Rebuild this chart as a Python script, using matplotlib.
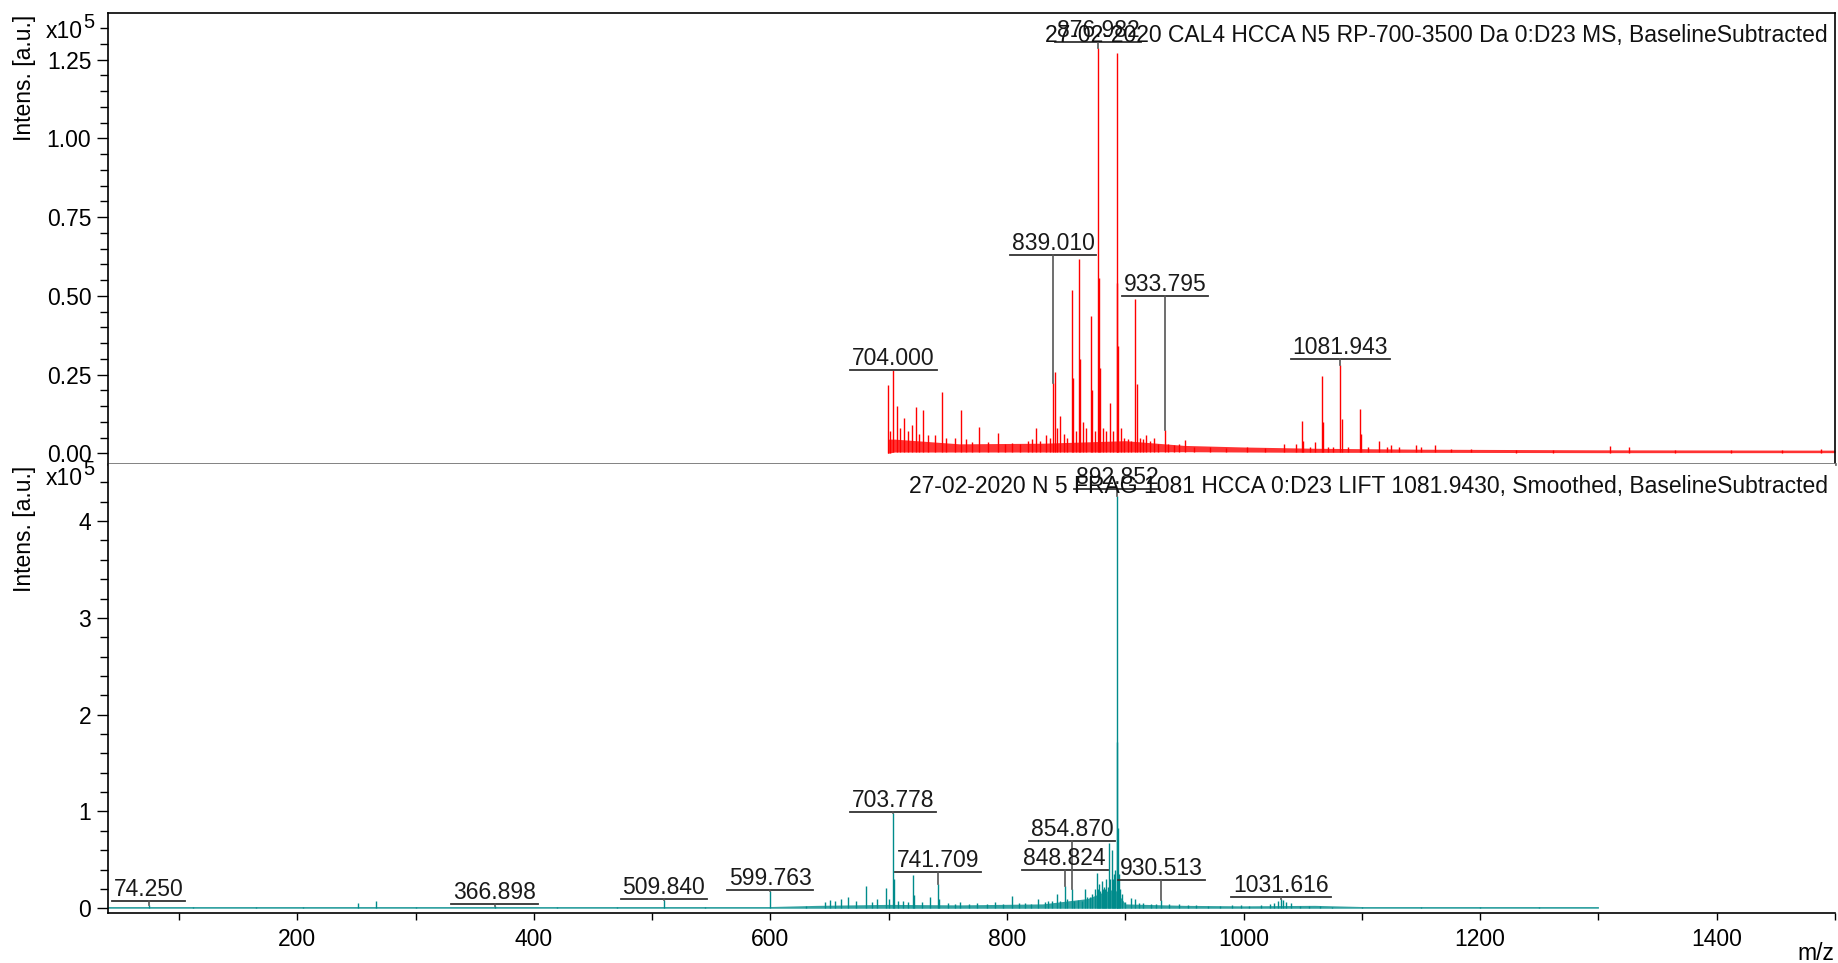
import numpy as np
import matplotlib.pyplot as plt
from matplotlib.ticker import MultipleLocator, FormatStrFormatter

plt.rcParams['font.family'] = ['Liberation Sans', 'DejaVu Sans']
plt.rcParams['font.size'] = 16.5

# MS spectrum (calibrant), intensities in units of 1e5
ms_mz = [699.6, 701.3, 704.000, 706.7, 709.5, 712.9, 716.0, 719.4, 723.1, 725.8,
         728.7, 733.0, 739.1, 744.8, 748.5, 756.0, 760.9, 765.0, 770.5, 776.6,
         784.0, 792.7, 798.0, 804.0, 811.0, 818.0, 821.5, 824.6, 828.0, 833.0,
         836.0, 839.010, 840.7, 842.5, 844.9, 848.0, 851.0, 854.8, 855.9, 858.0,
         860.8, 862.0, 864.5, 867.0, 870.9, 872.0, 874.5, 876.982, 877.6, 878.5,
         881.0, 883.5, 886.7, 889.5, 892.7, 893.3, 894.0, 896.0, 899.0, 902.0,
         905.0, 908.4, 909.8, 912.5, 915.0, 917.6, 921.0, 924.7, 928.0, 933.795,
         936.0, 941.0, 945.0, 950.7, 958.0, 972.0, 985.0, 1003.0, 1018.0, 1034.0,
         1044.0, 1049.4, 1050.5, 1056.0, 1060.0, 1066.3, 1067.3, 1071.0, 1076.0, 1081.943,
         1083.0, 1088.0, 1098.2, 1099.2, 1105.0, 1114.2, 1121.0, 1125.0, 1131.0, 1146.0,
         1150.0, 1162.0, 1175.0, 1192.0, 1230.0, 1262.0, 1310.0, 1326.0, 1365.0, 1412.0,
         1455.0, 1488.0]
ms_int = [0.218, 0.07, 0.265, 0.149, 0.08, 0.111, 0.07, 0.09, 0.146, 0.06,
          0.136, 0.058, 0.058, 0.194, 0.05, 0.048, 0.136, 0.045, 0.035, 0.085,
          0.035, 0.066, 0.03, 0.032, 0.03, 0.04, 0.045, 0.08, 0.04, 0.058,
          0.05, 0.223, 0.257, 0.08, 0.119, 0.06, 0.05, 0.520, 0.24, 0.07,
          0.618, 0.30, 0.10, 0.08, 0.435, 0.20, 0.07, 1.288, 0.555, 0.27,
          0.08, 0.07, 0.159, 0.07, 1.272, 0.542, 0.34, 0.08, 0.05, 0.045,
          0.04, 0.491, 0.22, 0.05, 0.045, 0.058, 0.04, 0.05, 0.03, 0.074,
          0.03, 0.025, 0.03, 0.042, 0.02, 0.02, 0.018, 0.02, 0.018, 0.03,
          0.03, 0.103, 0.04, 0.02, 0.035, 0.246, 0.10, 0.02, 0.02, 0.281,
          0.11, 0.02, 0.140, 0.06, 0.02, 0.04, 0.02, 0.025, 0.02, 0.026,
          0.02, 0.026, 0.015, 0.015, 0.012, 0.012, 0.023, 0.02, 0.012, 0.012,
          0.012, 0.013]
# noise floor of the MS trace
ms_band_mz = [699.0, 705.0, 760.0, 830.0, 900.0, 950.0, 1000.0, 1060.0, 1150.0, 1300.0, 1500.0]
ms_band_lo = [0.000, 0.004, 0.004, 0.004, 0.004, 0.005, 0.004, 0.003, 0.003, 0.002, 0.002]
ms_band_hi = [0.045, 0.045, 0.030, 0.032, 0.040, 0.025, 0.020, 0.016, 0.013, 0.011, 0.010]
ms_labels = [704.000, 839.010, 876.982, 933.795, 1081.943]
ms_label_y = [0.266, 0.63, 1.306, 0.499, 0.30]

# LIFT fragment spectrum, intensities in units of 1e5
lift_mz = [74.250, 112.0, 165.0, 205.0, 251.5, 266.5, 300.0, 366.898, 420.0, 470.0,
           509.840, 545.0, 599.763, 630.0, 646.0, 650.0, 655.0, 660.0, 666.0, 672.0,
           681.2, 686.0, 690.0, 697.3, 700.0, 703.778, 704.6, 708.0, 712.0, 716.0,
           720.6, 721.6, 728.0, 735.0, 741.709, 742.6, 750.0, 756.0, 760.0, 768.0,
           775.0, 783.0, 790.0, 797.0, 804.0, 810.0, 815.0, 820.0, 826.6, 832.0,
           835.0, 838.0, 842.7, 845.0, 848.824, 851.0, 854.870, 857.0, 860.0, 863.0,
           866.0, 868.0, 870.0, 872.0, 874.0, 876.0, 877.0, 878.0, 879.0, 880.0,
           881.0, 882.0, 883.0, 884.0, 885.0, 886.5, 887.5, 889.0, 890.0, 890.8,
           891.7, 892.852, 893.3, 893.8, 894.5, 895.5, 897.0, 900.0, 905.0, 908.0,
           912.0, 915.0, 922.0, 926.0, 930.513, 937.0, 945.0, 953.0, 960.0, 970.0,
           980.0, 990.0, 998.0, 1005.0, 1015.0, 1022.0, 1026.0, 1029.0, 1031.616, 1033.5,
           1036.0, 1040.0, 1048.0, 1055.0, 1065.0, 1075.0, 1100.0, 1150.0, 1200.0, 1250.0]
lift_int = [0.03, 0.012, 0.012, 0.01, 0.05, 0.076, 0.012, 0.02, 0.012, 0.015,
            0.083, 0.015, 0.176, 0.02, 0.06, 0.09, 0.07, 0.10, 0.12, 0.08,
            0.228, 0.06, 0.10, 0.214, 0.10, 0.98, 0.30, 0.08, 0.07, 0.06,
            0.34, 0.14, 0.06, 0.12, 0.255, 0.10, 0.05, 0.04, 0.06, 0.04,
            0.05, 0.04, 0.06, 0.04, 0.127, 0.05, 0.05, 0.04, 0.093, 0.06,
            0.08, 0.07, 0.152, 0.08, 0.228, 0.10, 0.20, 0.08, 0.09, 0.07,
            0.20, 0.12, 0.12, 0.15, 0.20, 0.366, 0.20, 0.25, 0.18, 0.28,
            0.20, 0.22, 0.20, 0.30, 0.22, 0.67, 0.30, 0.60, 0.30, 0.35,
            0.40, 4.26, 1.72, 0.83, 0.35, 0.20, 0.15, 0.06, 0.11, 0.10,
            0.05, 0.05, 0.04, 0.04, 0.09, 0.04, 0.04, 0.03, 0.035, 0.02,
            0.02, 0.03, 0.03, 0.025, 0.03, 0.04, 0.05, 0.07, 0.10, 0.09,
            0.06, 0.05, 0.025, 0.02, 0.02, 0.015, 0.01, 0.01, 0.01, 0.01]
lift_band_mz = [40.0, 600.0, 640.0, 700.0, 760.0, 830.0, 868.0, 880.0, 891.0, 900.0, 950.0, 1000.0, 1060.0, 1100.0, 1300.0]
lift_band_lo = [0.000, 0.000, 0.000, 0.000, 0.000, 0.000, 0.000, 0.000, 0.000, 0.000, 0.000, 0.000, 0.000, 0.000, 0.000]
lift_band_hi = [0.018, 0.018, 0.030, 0.040, 0.035, 0.045, 0.100, 0.160, 0.200, 0.045, 0.030, 0.025, 0.030, 0.018, 0.018]
lift_labels = [74.250, 366.898, 509.840, 599.763, 703.778, 741.709, 848.824, 854.870, 892.852, 930.513, 1031.616]
lift_label_y = [0.070, 0.045, 0.095, 0.188, 0.99, 0.37, 0.393, 0.694, 4.33, 0.297, 0.117]

ms_title = '27-02-2020 CAL4 HCCA N5 RP-700-3500 Da 0:D23 MS, BaselineSubtracted'
lift_title = '27-02-2020 N 5 FRAG 1081 HCCA 0:D23 LIFT 1081.9430, Smoothed, BaselineSubtracted'

W, H = 1838, 963
fig = plt.figure(figsize=(W / 100, H / 100), dpi=100)
x0, x1 = 108 / W, 1835 / W
ax1 = fig.add_axes([x0, 1 - 464 / H, x1 - x0, (464 - 13) / H])
ax2 = fig.add_axes([x0, 1 - 913 / H, x1 - x0, (913 - 464) / H])


def draw_spectrum(ax, mz, inten, bmz, blo, bhi, color):
    ax.fill_between(bmz, blo, bhi, color=color, lw=0, alpha=0.8)
    base = np.interp(mz, bmz, blo)
    ax.vlines(mz, base, inten, color=color, lw=1.0)


draw_spectrum(ax1, ms_mz, ms_int, ms_band_mz, ms_band_lo, ms_band_hi, '#ff0000')
draw_spectrum(ax2, lift_mz, lift_int, lift_band_mz, lift_band_lo, lift_band_hi, '#008b8b')

for ax in (ax1, ax2):
    ax.set_xlim(40, 1500)
    ax.tick_params(axis='y', which='major', direction='out', length=8, width=1, pad=4, labelsize=16.5)
    ax.tick_params(axis='y', which='minor', direction='out', length=5.5, width=1)
    for s in ax.spines.values():
        s.set_linewidth(1.2)

ax1.set_ylim(-0.034, 1.398)
ax1.set_yticks([0, 0.25, 0.5, 0.75, 1.0, 1.25])
ax1.yaxis.set_major_formatter(FormatStrFormatter('%.2f'))
ax1.yaxis.set_minor_locator(MultipleLocator(0.05))
ax1.tick_params(axis='x', which='both', bottom=False, labelbottom=False)
ax1.spines['bottom'].set_color('#777777')
ax1.spines['bottom'].set_linewidth(2)

ax2.set_ylim(-0.049, 4.59)
ax2.set_yticks([0, 1, 2, 3, 4])
ax2.yaxis.set_minor_locator(MultipleLocator(0.2))
ax2.set_xticks([200, 400, 600, 800, 1000, 1200, 1400])
ax2.xaxis.set_minor_locator(MultipleLocator(100))
ax2.tick_params(axis='x', which='both', direction='out', length=5, width=1, pad=6, labelsize=16.5)
ax2.spines['top'].set_visible(False)
ax2.spines['right'].set_visible(False)

# axis annotations in figure pixels
for top_px, base_px in ((15, 38), (466, 485)):
    fig.text(25 / W, 1 - top_px / H, 'Intens. [a.u.]', rotation=90, ha='center', va='top')
    fig.text(83 / W, 1 - base_px / H, 'x10', ha='right', va='baseline')
    fig.text(83 / W, 1 - (base_px - 10) / H, '5', ha='left', va='baseline', fontsize=14.5)
fig.text(1828 / W, 1 - 35.5 / H, ms_title, ha='right', va='center', color='#111111')
fig.text(1828 / W, 1 - 486.5 / H, lift_title, ha='right', va='center', color='#111111')
fig.text(1834 / W, 1 - 953 / H, 'm/z', ha='right', va='center')

# peak labels: text over an underline, with a leader down to the peak
pending = []
for ax, mz, inten, labels, ly in ((ax1, ms_mz, ms_int, ms_labels, ms_label_y),
                                  (ax2, lift_mz, lift_int, lift_labels, lift_label_y)):
    for m, y in zip(labels, ly):
        top = inten[mz.index(m)]
        t = ax.annotate('%.3f' % m, (m, y), xytext=(0, 0), textcoords='offset points',
                        ha='center', va='bottom', color='#1a1a1a',
                        annotation_clip=False)
        pending.append((ax, t, m, y, top))

fig.canvas.draw()
for ax, t, m, y, top in pending:
    bb = t.get_window_extent().transformed(ax.transData.inverted())
    ax.plot([bb.x0 - 1.5, bb.x1 + 1.5], [y, y], color='#333333', lw=1.3, clip_on=False)
    ax.plot([m, m], [y, top], color='#555555', lw=1.2, clip_on=False)

fig.savefig('out.png', dpi=100)
